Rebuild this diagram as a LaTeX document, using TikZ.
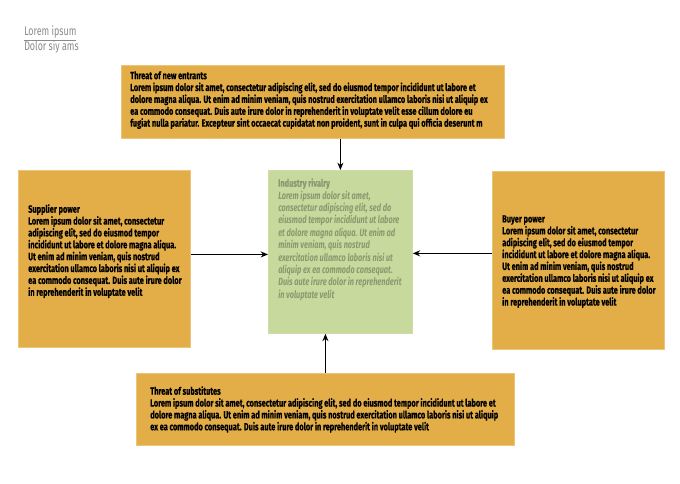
\documentclass[tikz,border=0pt]{standalone}
\usepackage{fontspec}
\setmainfont{Fira Sans}[FakeStretch=0.71, BoldFeatures={FakeBold=0.4}]
\usetikzlibrary{arrows.meta}
\definecolor{ochre}{HTML}{E3AE48}
\definecolor{ochreedge}{HTML}{EDC57A}
\definecolor{sage}{HTML}{C7D99C}
\definecolor{sagetext}{HTML}{8A9A70}
\definecolor{headgray}{HTML}{8A8A8A}
\tikzset{
  obox/.style={draw=ochreedge, line width=0.6pt, fill=ochre, anchor=north west, inner sep=0pt},
  gbox/.style={draw=sage!90!white, line width=0.6pt, fill=sage, anchor=north west, inner sep=0pt},
  btext/.style={anchor=north west, inner sep=0pt, align=left, text=black,
    font=\fontsize{7.8}{8.9}\selectfont\bfseries},
  gtext/.style={anchor=north west, inner sep=0pt, align=left, text=sagetext,
    font=\fontsize{7.8}{9.3}\selectfont\bfseries\itshape},
  htext/.style={anchor=base west, inner sep=0pt, text=headgray, font=\fontsize{9.4}{10}\selectfont},
  arr/.style={-{Stealth[length=5.5pt,width=4.5pt]}, line width=0.9pt, black},
}
\begin{document}
\begin{tikzpicture}[x=0.75pt,y=-0.75pt]
\useasboundingbox[fill=white] (0,0) rectangle (680,484);

\node[htext] (hdr1) at (24,36) {\underline{Lorem ipsum}};
\node[htext] (hdr2) at (24,50.5) {Dolor siy ams};

\node[obox, minimum width=287.25pt, minimum height=54.75pt] (top) at (121,65) {};
\node[obox, minimum width=129pt, minimum height=132.75pt] (left) at (18,170) {};
\node[gbox, minimum width=108pt, minimum height=122.25pt] (center) at (268,170) {};
\node[obox, minimum width=129pt, minimum height=133.5pt] (right) at (492,171) {};
\node[obox, minimum width=283.5pt, minimum height=54pt] (bottom) at (136,373) {};

\node[btext] (toptext) at (130,71) {Threat of new entrants\\
Lorem ipsum dolor sit amet, consectetur adipiscing elit, sed do eiusmod tempor incididunt ut labore et\\
dolore magna aliqua. Ut enim ad minim veniam, quis nostrud exercitation ullamco laboris nisi ut aliquip ex\\
ea commodo consequat. Duis aute irure dolor in reprehenderit in voluptate velit esse cillum dolore eu\\
fugiat nulla pariatur. Excepteur sint occaecat cupidatat non proident, sunt in culpa qui officia deserunt m};

\node[btext] (lefttext) at (28,204) {Supplier power\\
Lorem ipsum dolor sit amet, consectetur\\
adipiscing elit, sed do eiusmod tempor\\
incididunt ut labore et dolore magna aliqua.\\
Ut enim ad minim veniam, quis nostrud\\
exercitation ullamco laboris nisi ut aliquip ex\\
ea commodo consequat. Duis aute irure dolor\\
in reprehenderit in voluptate velit};

\node[btext] (righttext) at (502,215) {Buyer power\\
Lorem ipsum dolor sit amet, consectetur\\
adipiscing elit, sed do eiusmod tempor\\
incididunt ut labore et dolore magna aliqua.\\
Ut enim ad minim veniam, quis nostrud\\
exercitation ullamco laboris nisi ut aliquip ex\\
ea commodo consequat. Duis aute irure dolor\\
in reprehenderit in voluptate velit};

\node[gtext] (centertext) at (278,178) {{\upshape Industry rivalry}\\
Lorem ipsum dolor sit amet,\\
consectetur adipiscing elit, sed do\\
eiusmod tempor incididunt ut labore\\
et dolore magna aliqua. Ut enim ad\\
minim veniam, quis nostrud\\
exercitation ullamco laboris nisi ut\\
aliquip ex ea commodo consequat.\\
Duis aute irure dolor in reprehenderit\\
in voluptate velit};

\node[btext] (bottomtext) at (150,386) {Threat of substitutes\\
Lorem ipsum dolor sit amet, consectetur adipiscing elit, sed do eiusmod tempor incididunt ut labore et\\
dolore magna aliqua. Ut enim ad minim veniam, quis nostrud exercitation ullamco laboris nisi ut aliquip\\
ex ea commodo consequat. Duis aute irure dolor in reprehenderit in voluptate velit};

\draw[arr] (top.south -| center.north) -- (center.north);
\draw[arr] (bottom.north) -- (center.south -| bottom.north);
\coordinate (cw) at ([yshift=-1.9pt]center.west);
\coordinate (ce) at ([yshift=-1.1pt]center.east);
\draw[arr] (left.east |- cw) -- (cw);
\draw[arr] (right.west |- ce) -- (ce);
\end{tikzpicture}
\end{document}
